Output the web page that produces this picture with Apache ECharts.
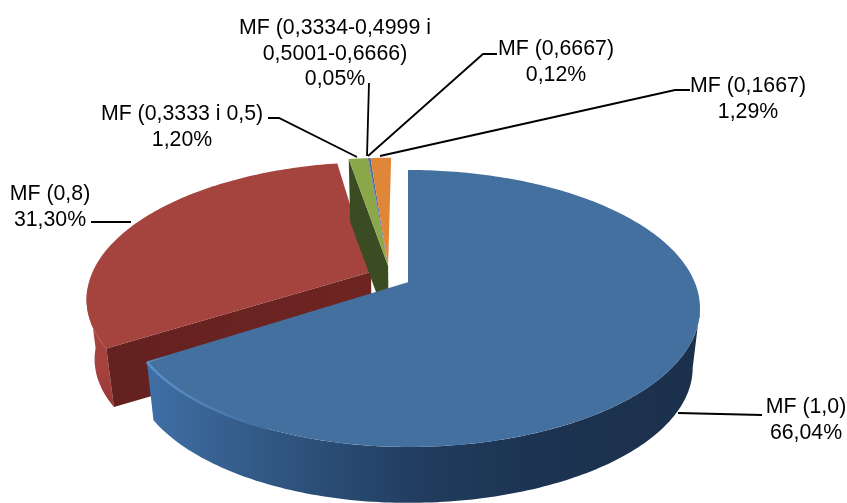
<!DOCTYPE html>
<html><head><meta charset="utf-8">
<style>html,body{margin:0;padding:0;background:#fff}#c{width:847px;height:503px}</style>
<script src="https://cdn.jsdelivr.net/npm/echarts@6/dist/echarts.min.js"></script>
</head><body><div id="c"></div>
<script>
const categories = ['MF (1,0)','MF (0,8)','MF (0,3333 i 0,5)','MF (0,3334-0,4999 i\n0,5001-0,6666)','MF (0,6667)','MF (0,1667)'];
const shares = [66.04,31.30,1.20,0.05,0.12,1.29];

// --- presentation only ---
const topColors = ['#44709f','#a5433f','#8aa84a','#6b5a8a','#3f6f96','#df8638'];
const explode = [[0,0],[-0.131,0.084],[-0.071,0.131],[-0.071,0.131],[-0.071,0.131],[-0.071,0.131]];
const leftScale = [0.97,0.985,1.07,1.07,1.07,1.07];
const drawOrder = [1,2,3,4,5,0];
const labelPos = [[806,420],[50,207],[182,127],[335,54],[556,62],[748,99]];
const leaders = [
  [[678,413],[762,415]],
  [[131,222],[91,222]],
  [[357,157],[279,118],[268,118]],
  [[367,156],[369,83]],
  [[368,156],[483,54],[497,54]],
  [[380,156],[675,90],[690,90]]
];
const VIEW = {cx:408, cy:283, A:133.8, B:287, k:0.184, drop:60, shrink:0.975};

const cum = [];
shares.reduce((s,v,i)=>{cum[i]=s;return s+v;},0);
const total = shares.reduce((a,b)=>a+b,0);

function proj(px,py,low){
  const d = 1+VIEW.k*py, s = low?VIEW.shrink:1, oy = VIEW.cy+(low?VIEW.drop:0);
  return [VIEW.cx + s*VIEW.B*px/d, oy - s*VIEW.A*py/d];
}
function rim(i,deg,low){
  const t = deg*Math.PI/180, e = explode[i], sx = Math.sin(t);
  return proj(e[0]+sx*(sx<0?leftScale[i]:1), e[1]+Math.cos(t), low);
}
function arc(i,a,b,low){
  const n = Math.max(2,Math.ceil(Math.abs(b-a))), out=[];
  for(let j=0;j<=n;j++) out.push(rim(i,a+(b-a)*j/n,low));
  return out;
}
const grad = (x,y,x2,y2,stops)=>new echarts.graphic.LinearGradient(x,y,x2,y2,stops.map(s=>({offset:s[0],color:s[1]})));

function renderSlice(params,api){
  const i = api.value(0), a0 = cum[i]/total*360, a1 = (cum[i]+api.value(1))/total*360;
  const e = explode[i], apex = proj(e[0],e[1],false), apexLow = proj(e[0],e[1],true);
  const kids = [];
  const poly = (pts,fill)=>kids.push({type:'polygon',shape:{points:pts},style:{fill:fill,stroke:null}});
  if(i===0){
    const lo = arc(0,a1,100.6,true), up = arc(0,100.6,a1,false);
    poly(lo.concat(up), grad(0,0,1,0,[[0,'#3f6fa6'],[0.12,'#386292'],[0.3,'#2c4f78'],[0.5,'#213c5e'],[0.72,'#1c3351'],[1,'#1b304b']]));
  }
  if(i===1){
    const lo = arc(1,a0,263,true), up = arc(1,263,a0,false);
    poly(lo.concat(up), grad(0,0,0,1,[[0,'#a8443f'],[0.7,'#a5423e'],[1,'#973835']]));
    poly([rim(1,a0,false),apex,apexLow,rim(1,a0,true)], grad(0,0,1,0,[[0,'#642120'],[1,'#6e2522']]));
  }
  if(i===2){
    poly([rim(2,a0,false),apex,apexLow,rim(2,a0,true)],'#3b4c23');
  }
  poly([apex].concat(arc(i,a0,a1,false)), topColors[i]);
  if(i===0){
    kids.push({type:'polyline',shape:{points:[rim(0,a1,false),apex]},style:{fill:null,lineWidth:1.5,stroke:grad(0,0,1,0,[[0,'#5f92cb'],[0.1,'#44709f'],[1,'#44709f']])}});
    kids.push({type:'polyline',shape:{points:arc(0,a1,205,false)},style:{fill:null,lineWidth:2.5,stroke:grad(0,0,1,0,[[0,'#5f92cb'],[1,'#3f6c9f']])}});
  }
  return {type:'group',children:kids};
}
const fmt = v => v.toFixed(2).replace('.',',')+'%';
function renderLabel(params,api){
  const i = api.value(0), p = labelPos[i];
  return {type:'group',children:[
    {type:'polyline',shape:{points:leaders[i]},style:{fill:null,stroke:'#000',lineWidth:1.8}},
    {type:'text',style:{text:categories[i]+'\n'+fmt(shares[i]),x:p[0],y:p[1],align:'center',verticalAlign:'middle',
      font:'21.3px "Liberation Sans", Arial, sans-serif',lineHeight:25.5,fill:'#000'}}
  ]};
}
const chart = echarts.init(document.getElementById('c'),null,{renderer:'canvas'});
chart.setOption({
  animation:false,
  backgroundColor:'#fff',
  series:[
    {type:'custom',coordinateSystem:'none',silent:true,renderItem:renderSlice,data:drawOrder.map(i=>[i,shares[i]])},
    {type:'custom',coordinateSystem:'none',silent:true,renderItem:renderLabel,data:shares.map((v,i)=>[i,v])}
  ]
});
</script></body></html>
